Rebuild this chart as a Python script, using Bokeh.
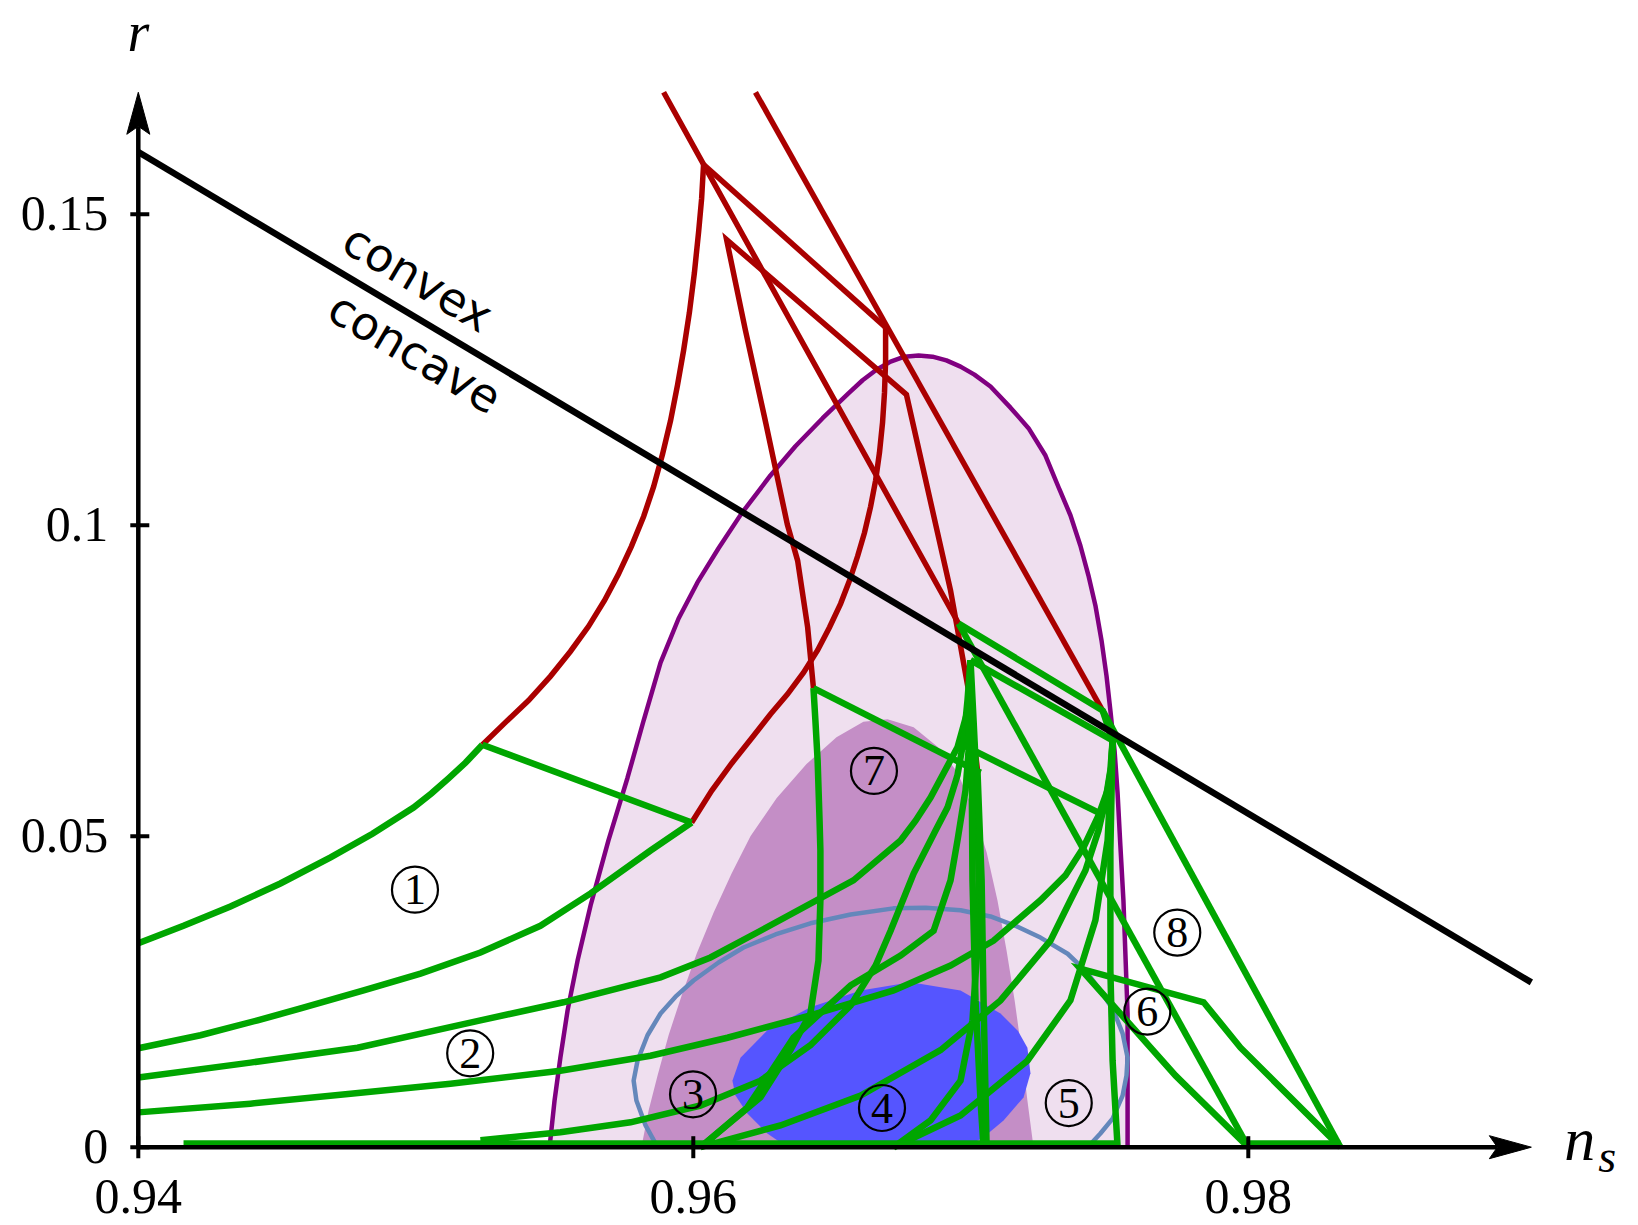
import numpy as np
from bokeh.plotting import figure
from bokeh.models import Range1d
from bokeh.embed import file_html
from bokeh.resources import INLINE
from bokeh.core.properties import value

# ---------------- data ----------------
X_TICKS = [0.94, 0.96, 0.98]
X_TICK_LABELS = ["0.94", "0.96", "0.98"]
Y_TICKS = [0.0, 0.05, 0.1, 0.15]
Y_TICK_LABELS = ["0", "0.05", "0.1", "0.15"]
NS_MAX = 0.9902          # end of n_s arrow
R_MAX = 0.1696           # end of r arrow

# convex / concave boundary line
boundary_ns = [0.94, 0.9902]
boundary_r = [0.16, 0.0265]

# Planck 2-sigma (light) region
outer_ns = [0.95482, 0.95500, 0.95521, 0.95547, 0.95583, 0.95630, 0.95694, 0.95763, 0.95821, 0.95882,
            0.95947, 0.96015, 0.96091, 0.96174, 0.96278, 0.96368, 0.96466, 0.96559, 0.96610, 0.96660,
            0.96711, 0.96761, 0.96812, 0.96862, 0.96912, 0.96963, 0.97013, 0.97071, 0.97143, 0.97208,
            0.97269, 0.97320, 0.97359, 0.97395, 0.97424, 0.97449, 0.97471, 0.97489, 0.97503, 0.97518,
            0.97529, 0.97539, 0.97550, 0.97558, 0.97565, 0.97565, 0.97565]
outer_r = [0.0, 0.0075, 0.0144, 0.0220, 0.0300, 0.0389, 0.0493, 0.0594, 0.0686, 0.0779,
           0.0850, 0.0908, 0.0963, 0.1019, 0.1080, 0.1127, 0.1172, 0.1212, 0.1233, 0.1250,
           0.1263, 0.1271, 0.1273, 0.1271, 0.1265, 0.1255, 0.1242, 0.1223, 0.1189, 0.1156,
           0.1112, 0.1057, 0.1016, 0.0967, 0.0919, 0.0871, 0.0815, 0.0758, 0.0702, 0.0638,
           0.0569, 0.0485, 0.0397, 0.0300, 0.0215, 0.0107, 0.0]

# Planck 1-sigma (dark) region
inner_ns = [0.95813, 0.95839, 0.95871, 0.95911, 0.95958, 0.96012, 0.96073, 0.96138, 0.96206, 0.96300,
            0.96408, 0.96516, 0.96613, 0.96700, 0.96794, 0.96880, 0.96952, 0.97010, 0.97057, 0.97096,
            0.97129, 0.97158, 0.97183, 0.97204, 0.97226]
inner_r = [0.0, 0.0059, 0.0115, 0.0180, 0.0244, 0.0311, 0.0377, 0.0440, 0.0500, 0.0561,
           0.0616, 0.0659, 0.0684, 0.0688, 0.0675, 0.0644, 0.0603, 0.0541, 0.0474, 0.0397,
           0.0316, 0.0236, 0.0155, 0.0075, 0.0]

# blue 2-sigma contour (outline only)
blue2_ns = [0.95871, 0.95828, 0.95795, 0.95785, 0.95799, 0.95835, 0.95882, 0.95936, 0.96001, 0.96091,
            0.96181, 0.96296, 0.96422, 0.96567, 0.96721, 0.96837, 0.96963, 0.97071, 0.97161, 0.97251,
            0.97349, 0.97413, 0.97467, 0.97514, 0.97547, 0.97565, 0.97561, 0.97547, 0.97511, 0.97467,
            0.97421]
blue2_r = [0.0, 0.0035, 0.0075, 0.0107, 0.0139, 0.0180, 0.0215, 0.0242, 0.0268, 0.0297,
           0.0321, 0.0342, 0.0360, 0.0374, 0.0384, 0.0385, 0.0381, 0.0371, 0.0356, 0.0337,
           0.0311, 0.0284, 0.0252, 0.0220, 0.0183, 0.0144, 0.0115, 0.0083, 0.0046, 0.0022,
           0.0]

# blue 1-sigma region (filled)
blue1_ns = [0.96339, 0.96267, 0.96195, 0.96152, 0.96141, 0.96170, 0.96267, 0.96422, 0.96603, 0.96783,
            0.96963, 0.97107, 0.97170, 0.97204, 0.97215, 0.97190, 0.97118, 0.97046, 0.96981]
blue1_r = [0.0, 0.0022, 0.0054, 0.0083, 0.0107, 0.0144, 0.0188, 0.0225, 0.0252, 0.0265,
           0.0252, 0.0215, 0.0187, 0.0160, 0.0119, 0.0080, 0.0043, 0.0016, 0.0]

# red (excluded) branches
red_curve1_ns = [0.95240, 0.95323, 0.95406, 0.95485, 0.95557, 0.95622, 0.95680, 0.95730, 0.95777, 0.95821,
                 0.95857, 0.95889, 0.95918, 0.95943, 0.95965, 0.95986, 0.96004, 0.96019, 0.96030, 0.96037]
red_curve1_r = [0.0647, 0.0683, 0.0718, 0.0757, 0.0797, 0.0837, 0.0879, 0.0921, 0.0966, 0.1014,
                0.1062, 0.1114, 0.1168, 0.1225, 0.1281, 0.1342, 0.1406, 0.1471, 0.1525, 0.1580]
red_lineA_ns = [0.95893, 0.96037, 0.96956]
red_lineA_r = [0.1696, 0.1580, 0.0842]
red_lineC_ns = [0.96037, 0.96693]
red_lineC_r = [0.1580, 0.1318]
red_curve2_ns = [0.96693, 0.96693, 0.96689, 0.96682, 0.96671, 0.96657, 0.96639, 0.96617, 0.96592, 0.96563,
                 0.96531, 0.96491, 0.96448, 0.96397, 0.96339, 0.96278, 0.96213, 0.96138, 0.96066, 0.95994]
red_curve2_r = [0.1318, 0.1265, 0.1213, 0.1165, 0.1117, 0.1072, 0.1030, 0.0988, 0.0950, 0.0911,
                0.0874, 0.0836, 0.0799, 0.0763, 0.0728, 0.0696, 0.0659, 0.0617, 0.0573, 0.0522]
red_lineB_ns = [0.96224, 0.97475]
red_lineB_r = [0.1696, 0.0702]
red_lineDE_ns = [0.96433, 0.96412, 0.96376, 0.96339, 0.96257, 0.96188, 0.96120, 0.96768, 0.96927, 0.96992, 0.97024]
red_lineDE_r = [0.0738, 0.0836, 0.0943, 0.1001, 0.1173, 0.1313, 0.1459, 0.1210, 0.0895, 0.0734, 0.0606]

# green (allowed) branches
g1_ns = [0.94, 0.94163, 0.94332, 0.94512, 0.94693, 0.94844, 0.94992, 0.95057, 0.95118, 0.95179, 0.95240]
g1_r = [0.0328, 0.0356, 0.0387, 0.0424, 0.0466, 0.0504, 0.0546, 0.0569, 0.0593, 0.0618, 0.0647]
g2_ns = [0.95240, 0.95994]
g2_r = [0.0647, 0.0522]
g3_ns = [0.95994, 0.95846, 0.95630, 0.95449, 0.95233, 0.95017, 0.94812, 0.94585, 0.94430, 0.94224, 0.94]
g3_r = [0.0522, 0.0477, 0.0408, 0.0356, 0.0313, 0.0279, 0.0252, 0.0223, 0.0204, 0.0180, 0.0159]
g4_ns = [0.94, 0.94404, 0.94790, 0.95233, 0.95532, 0.95882, 0.96062, 0.96242, 0.96577, 0.96747,
         0.96801, 0.96855, 0.96952, 0.96992, 0.96999]
g4_r = [0.0112, 0.0136, 0.0160, 0.0204, 0.0233, 0.0273, 0.0305, 0.0348, 0.0429, 0.0493,
        0.0525, 0.0562, 0.0643, 0.0707, 0.0783]
g5_ns = [0.94, 0.94404, 0.94765, 0.95125, 0.95521, 0.95846, 0.96123, 0.96422, 0.96722, 0.96927,
         0.97082, 0.97251, 0.97341, 0.97406, 0.97460, 0.97493, 0.97507, 0.97511]
g5_r = [0.0056, 0.0070, 0.0086, 0.0102, 0.0123, 0.0147, 0.0176, 0.0212, 0.0252, 0.0292,
        0.0332, 0.0397, 0.0437, 0.0482, 0.0533, 0.0574, 0.0614, 0.0654]
g6_ns = [0.95233, 0.95521, 0.95774, 0.96026, 0.96242, 0.96422, 0.96567, 0.96657, 0.96711, 0.96794,
         0.96873, 0.96916, 0.96952, 0.96974, 0.96988, 0.96999]
g6_r = [0.0011, 0.0024, 0.0040, 0.0067, 0.0107, 0.0164, 0.0228, 0.0292, 0.0348, 0.0440,
        0.0509, 0.0546, 0.0598, 0.0654, 0.0718, 0.0783]
g_flat_ns = [0.94163, 0.97529]
g_flat_r = [0.0006, 0.0006]
p1_t7_ns = [0.96026, 0.96134, 0.96242, 0.96350, 0.96422, 0.96451, 0.96458, 0.96458, 0.96455, 0.96448, 0.96440, 0.96433]
p1_t7_r = [0.0, 0.0040, 0.0080, 0.0156, 0.0215, 0.0300, 0.0397, 0.0477, 0.0525, 0.0622, 0.0686, 0.0738]
p1_a2_ns = [0.96026, 0.96195, 0.96361, 0.96567, 0.96747, 0.96866, 0.96927, 0.96952, 0.96981, 0.96992, 0.96999]
p1_a2_r = [0.0, 0.0064, 0.0176, 0.0260, 0.0308, 0.0348, 0.0429, 0.0493, 0.0574, 0.0638, 0.0783]
p1_c1_ns = [0.96026, 0.96314, 0.96603, 0.96891, 0.97107, 0.97287, 0.97359, 0.97413, 0.97460, 0.97485, 0.97503, 0.97511]
p1_c1_r = [0.0, 0.0035, 0.0083, 0.0156, 0.0236, 0.0332, 0.0397, 0.0445, 0.0509, 0.0557, 0.0606, 0.0654]
p2_a2_ns = [0.96722, 0.96855, 0.96963, 0.97006, 0.97024, 0.97028, 0.97024, 0.97010, 0.96999]
p2_a2_r = [0.0, 0.0043, 0.0107, 0.0204, 0.0321, 0.0429, 0.0557, 0.0686, 0.0783]
p2_c1_ns = [0.96722, 0.96963, 0.97204, 0.97359, 0.97449, 0.97493, 0.97511]
p2_c1_r = [0.0, 0.0051, 0.0139, 0.0236, 0.0365, 0.0493, 0.0654]
v1_ns = [0.96999, 0.97003, 0.97006, 0.97017, 0.97035, 0.97046]
v1_r = [0.0783, 0.0622, 0.0429, 0.0236, 0.0075, 0.0]
v2_ns = [0.97024, 0.97039, 0.97046, 0.97057]
v2_r = [0.0606, 0.0429, 0.0236, 0.0]
v3_ns = [0.97511, 0.97503, 0.97503, 0.97511, 0.97529]
v3_r = [0.0654, 0.0477, 0.0284, 0.0139, 0.0]
l7a_ns = [0.96433, 0.97035]
l7a_r = [0.0738, 0.0602]
l7b_ns = [0.96974, 0.97482]
l7b_r = [0.0646, 0.0533]
a1_c0_c1_ns = [0.96956, 0.97475, 0.97511]
a1_c0_c1_r = [0.0842, 0.0702, 0.0654]
a2_c1_ns = [0.96999, 0.97511]
a2_c1_r = [0.0783, 0.0654]
reg8_left_ns = [0.96956, 0.98000]
reg8_left_r = [0.0842, 0.0]
reg8_right_ns = [0.97475, 0.98332]
reg8_right_r = [0.0702, 0.0]
reg6_ns = [0.98000, 0.97738, 0.97395, 0.97839, 0.97972, 0.98332]
reg6_r = [0.0, 0.0115, 0.0287, 0.0233, 0.0160, 0.0]
g_flat2_ns = [0.98000, 0.98332]
g_flat2_r = [0.0006, 0.0006]

# region labels
label_text = ["1", "2", "3", "4", "5", "6", "7", "8"]
label_ns = [0.94997, 0.95196, 0.95999, 0.96680, 0.97353, 0.97636, 0.96651, 0.97744]
label_r = [0.0414, 0.0151, 0.0085, 0.0063, 0.0071, 0.0218, 0.0605, 0.0345]

# texts along the boundary line
side_text = ["convex", "concave"]
side_ns = [0.94943, 0.95054]
side_perp_px = [19.5, -46.4]     # baseline distance from the line (screen px, + = above)

# ---------------- layout ----------------
W, H = 1638, 1225
SX, SY = 27750.0, 6220.0           # pixels per data unit
x_start = X_TICKS[0] - 137.8 / SX
y_end = 1146.7 / SY

p = figure(width=W, height=H,
           x_range=Range1d(x_start, x_start + W / SX),
           y_range=Range1d(y_end - H / SY, y_end),
           x_axis_type=None, y_axis_type=None,
           output_backend="svg", toolbar_location=None, min_border=0)
p.outline_line_color = None
p.background_fill_color = "white"
p.border_fill_color = "white"

LIGHT = "#efdfef"
DARK = "#c48ec6"
PURPLE = "#800080"
BLUE_LINE = "#6487bb"
BLUE_FILL = "#5555ff"
RED = "#aa0000"
GREEN = "#00a600"

LIFT = 0.34   # baseline correction (fraction of font size) for the svg text placement

# contours
p.patch(outer_ns, outer_r, fill_color=LIGHT, line_color=None)
p.line(outer_ns, outer_r, line_color=PURPLE, line_width=4.5)
p.patch(inner_ns, inner_r, fill_color=DARK, line_color=None)
p.line(blue2_ns, blue2_r, line_color=BLUE_LINE, line_width=4.5)
p.patch(blue1_ns, blue1_r, fill_color=BLUE_FILL, line_color=None)

# red branches
p.multi_line(xs=[red_curve1_ns, red_lineA_ns, red_lineC_ns, red_curve2_ns, red_lineB_ns, red_lineDE_ns],
             ys=[red_curve1_r, red_lineA_r, red_lineC_r, red_curve2_r, red_lineB_r, red_lineDE_r],
             line_color=RED, line_width=5.5, line_join="miter")

# green branches
gx = [g1_ns, g2_ns, g3_ns, g4_ns, g5_ns, g6_ns, g_flat_ns, p1_t7_ns, p1_a2_ns, p1_c1_ns,
      p2_a2_ns, p2_c1_ns, v1_ns, v2_ns, v3_ns, l7a_ns, l7b_ns, a1_c0_c1_ns, a2_c1_ns,
      reg8_left_ns, reg8_right_ns, reg6_ns, g_flat2_ns]
gy = [g1_r, g2_r, g3_r, g4_r, g5_r, g6_r, g_flat_r, p1_t7_r, p1_a2_r, p1_c1_r,
      p2_a2_r, p2_c1_r, v1_r, v2_r, v3_r, l7a_r, l7b_r, a1_c0_c1_r, a2_c1_r,
      reg8_left_r, reg8_right_r, reg6_r, g_flat2_r]
p.multi_line(xs=gx, ys=gy, line_color=GREEN, line_width=6.5, line_join="miter")

# boundary line
p.line(boundary_ns, boundary_r, line_color="black", line_width=6.5)

# axes with arrows
AX_W = 4.5
L_HEAD, HW_HEAD, NOTCH = 42, 11.5, 8
p.line([X_TICKS[0], NS_MAX - (L_HEAD - NOTCH) / SX], [0, 0], line_color="black", line_width=AX_W)
p.line([X_TICKS[0], X_TICKS[0]], [0, R_MAX - (L_HEAD - NOTCH) / SY], line_color="black", line_width=AX_W)
p.patch([NS_MAX, NS_MAX - L_HEAD / SX, NS_MAX - (L_HEAD - NOTCH) / SX, NS_MAX - L_HEAD / SX],
        [0, HW_HEAD / SY, 0, -HW_HEAD / SY], fill_color="black", line_color="black", line_width=1)
p.patch([X_TICKS[0], X_TICKS[0] - HW_HEAD / SX, X_TICKS[0], X_TICKS[0] + HW_HEAD / SX],
        [R_MAX, R_MAX - L_HEAD / SY, R_MAX - (L_HEAD - NOTCH) / SY, R_MAX - L_HEAD / SY],
        fill_color="black", line_color="black", line_width=1)

TICK = 11
p.segment(x0=X_TICKS, y0=[-TICK / SY] * len(X_TICKS), x1=X_TICKS, y1=[TICK / SY] * len(X_TICKS),
          line_color="black", line_width=4)
p.segment(x0=[X_TICKS[0] - 8 / SX] * len(Y_TICKS), y0=Y_TICKS,
          x1=[X_TICKS[0] + TICK / SX] * len(Y_TICKS), y1=Y_TICKS,
          line_color="black", line_width=4)

SERIF = value("Liberation Serif")
FS_TICK = 50
p.text(x=X_TICKS, y=[0] * len(X_TICKS), text=X_TICK_LABELS, text_align="center",
       text_baseline="alphabetic", y_offset=66 - LIFT * FS_TICK, text_font=SERIF,
       text_font_size=f"{FS_TICK}px", text_color="black")
p.text(x=[X_TICKS[0]] * len(Y_TICKS), y=Y_TICKS, text=Y_TICK_LABELS, text_align="right",
       text_baseline="alphabetic", x_offset=-30, y_offset=16 - LIFT * FS_TICK, text_font=SERIF,
       text_font_size=f"{FS_TICK}px", text_color="black")

# axis titles
FS_R = 56
p.text(x=[X_TICKS[0]], y=[R_MAX], text=["r"], text_align="center", text_baseline="alphabetic",
       y_offset=-41 - LIFT * FS_R, text_font=SERIF, text_font_style="italic",
       text_font_size=f"{FS_R}px")
p.text(x=[NS_MAX], y=[0], text=["n"], text_align="left", text_baseline="alphabetic",
       x_offset=33, y_offset=13 - LIFT * 62, text_font=SERIF, text_font_style="italic",
       text_font_size="62px")
p.text(x=[NS_MAX], y=[0], text=["s"], text_align="left", text_baseline="alphabetic",
       x_offset=67, y_offset=25 - LIFT * 46, text_font=SERIF, text_font_style="italic",
       text_font_size="46px")

# convex / concave labels along the line
FS_SIDE = 46
slope = (boundary_r[1] - boundary_r[0]) / (boundary_ns[1] - boundary_ns[0])
ang = float(np.arctan(slope * SY / SX))
nx, ny = -np.sin(ang), np.cos(ang)
for t, s, d in zip(side_text, side_ns, side_perp_px):
    rr = float(np.interp(s, boundary_ns, boundary_r))
    dd = d + LIFT * FS_SIDE
    p.text(x=[s], y=[rr], text=[t], angle=ang, text_align="center", text_baseline="alphabetic",
           x_offset=float(dd * nx), y_offset=float(-dd * ny),
           text_font=value("DejaVu Sans"), text_font_size=f"{FS_SIDE}px", text_color="black")

# circled region numbers
FS_LAB = 44
p.scatter(label_ns, label_r, marker="circle", size=46, fill_color=None, line_color="black", line_width=2.2)
p.text(x=label_ns, y=label_r, text=label_text, text_align="center", text_baseline="alphabetic",
       y_offset=15 - LIFT * FS_LAB, text_font=SERIF, text_font_size=f"{FS_LAB}px", text_color="black")

open("out.html", "w").write(file_html(p, INLINE))
